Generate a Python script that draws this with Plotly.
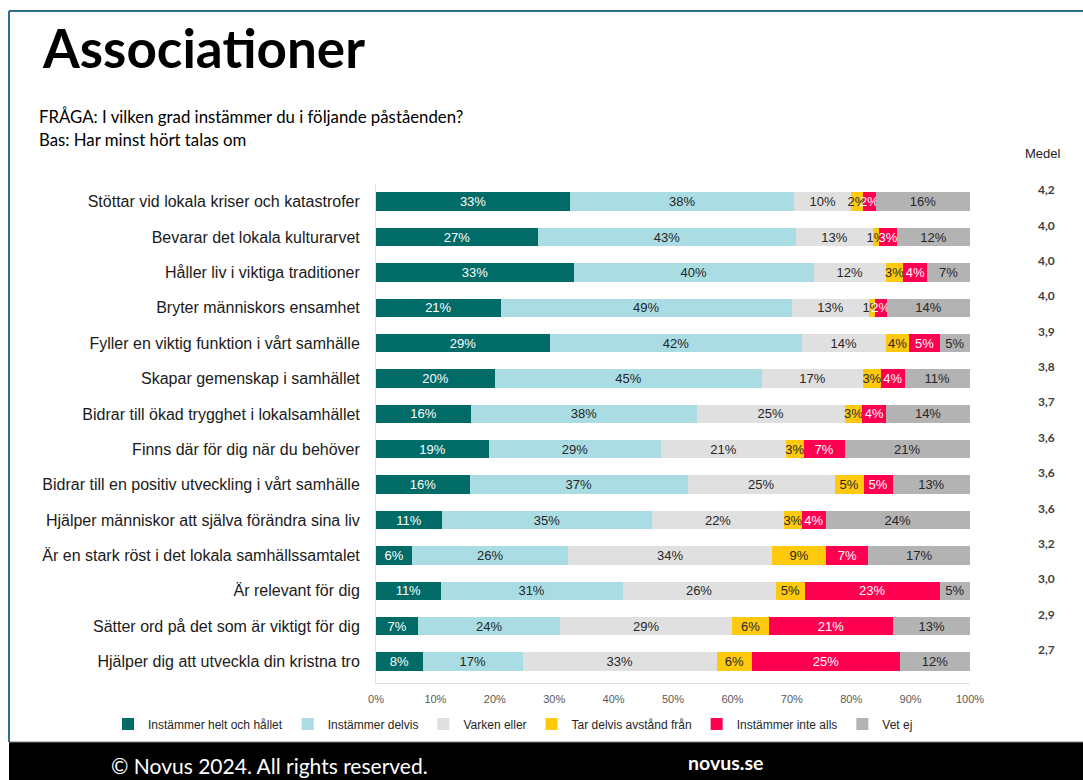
import plotly.graph_objects as go

categories = [
    "Stöttar vid lokala kriser och katastrofer",
    "Bevarar det lokala kulturarvet",
    "Håller liv i viktiga traditioner",
    "Bryter människors ensamhet",
    "Fyller en viktig funktion i vårt samhälle",
    "Skapar gemenskap i samhället",
    "Bidrar till ökad trygghet i lokalsamhället",
    "Finns där för dig när du behöver",
    "Bidrar till en positiv utveckling i vårt samhälle",
    "Hjälper människor att själva förändra sina liv",
    "Är en stark röst i det lokala samhällssamtalet",
    "Är relevant för dig",
    "Sätter ord på det som är viktigt för dig",
    "Hjälper dig att utveckla din kristna tro",
]

helt = [32.7, 27.3, 33.3, 21.0, 29.3, 20.0, 16.0, 19.0, 15.8, 11.1, 6.1, 10.9, 7.1, 7.9]
delvis = [37.7, 43.4, 40.4, 49.0, 42.4, 45.0, 38.0, 29.0, 36.7, 35.4, 26.3, 30.6, 23.9, 16.8]
varken = [9.6, 13.0, 12.1, 13.0, 14.1, 17.0, 24.9, 21.0, 24.7, 22.2, 34.3, 25.8, 29.0, 32.7]
avstand = [2.0, 1.0, 3.0, 1.0, 4.0, 3.0, 3.0, 3.0, 4.9, 3.0, 9.1, 4.9, 6.1, 5.9]
inte = [2.2, 3.0, 4.0, 2.0, 5.1, 4.0, 4.0, 6.9, 4.9, 4.0, 7.1, 22.7, 21.0, 24.9]
vetej = [15.8, 12.3, 7.2, 14.0, 5.1, 11.0, 14.1, 21.1, 13.0, 24.3, 17.1, 5.1, 12.9, 11.8]

medel = ["4,2", "4,0", "4,0", "4,0", "3,9", "3,8", "3,7", "3,6", "3,6", "3,6", "3,2", "3,0", "2,9", "2,7"]
xticks = [0, 10, 20, 30, 40, 50, 60, 70, 80, 90, 100]

series = [
    ("Instämmer helt och hållet", helt, "#006B67", "white"),
    ("Instämmer delvis", delvis, "#A9DCE3", "#262626"),
    ("Varken eller", varken, "#E0E0E0", "#262626"),
    ("Tar delvis avstånd från", avstand, "#FFC90E", "#262626"),
    ("Instämmer inte alls", inte, "#FF0050", "white"),
    ("Vet ej", vetej, "#B3B3B3", "#262626"),
]

W, H = 1083, 780
L, R, T, B = 376, 113, 184, 97
PW, PH = W - L - R, H - T - B


def px(x):
    return (x - L) / PW


def py(y):
    return (H - B - y) / PH


fig = go.Figure()
for name, vals, col, tcol in series:
    fig.add_trace(go.Bar(
        y=categories, x=vals, name=name, orientation="h",
        marker=dict(color=col, line=dict(width=0)),
        width=0.52,
        texttemplate="%{x:.0f}%", textposition="inside", textangle=0,
        insidetextanchor="middle", constraintext="none",
        textfont=dict(color=tcol, size=13, family="Liberation Sans"),
        hoverinfo="skip",
    ))

annotations = []
for c, m in zip(categories, medel):
    annotations.append(dict(
        x=px(1046), xref="paper", y=c, yref="y", yshift=12,
        text="<b>" + m + "</b>", showarrow=False, xanchor="center", yanchor="middle",
        font=dict(size=12, color="#404040", family="Lato"),
    ))

annotations += [
    dict(x=px(1043), y=py(153), xref="paper", yref="paper", text="Medel",
         showarrow=False, xanchor="center", yanchor="middle",
         font=dict(size=13, color="#222222", family="Liberation Sans")),
    dict(x=px(40), y=py(47), xref="paper", yref="paper", text="<b>Associationer</b>",
         showarrow=False, xanchor="left", yanchor="middle",
         font=dict(size=53, color="black", family="Lato")),
    dict(x=px(37), y=py(117), xref="paper", yref="paper",
         text="FRÅGA: I vilken grad instämmer du i följande påståenden?",
         showarrow=False, xanchor="left", yanchor="middle",
         font=dict(size=16.8, color="black", family="Lato")),
    dict(x=px(37), y=py(139), xref="paper", yref="paper",
         text="Bas: Har minst hört talas om",
         showarrow=False, xanchor="left", yanchor="middle",
         font=dict(size=16.8, color="black", family="Lato")),
    dict(x=px(109), y=py(765), xref="paper", yref="paper",
         text="© Novus 2024. All rights reserved.",
         showarrow=False, xanchor="left", yanchor="middle",
         font=dict(size=21, color="white", family="Lato")),
    dict(x=px(725), y=py(762), xref="paper", yref="paper",
         text="<b>novus.se</b>",
         showarrow=False, xanchor="center", yanchor="middle",
         font=dict(size=19.5, color="white", family="Lato")),
]

shapes = [
    dict(type="rect", xref="paper", yref="paper", x0=px(9), x1=px(W + 5),
         y0=py(742), y1=py(H + 5), fillcolor="black", line=dict(width=0), layer="below"),
    dict(type="line", xref="paper", yref="paper", x0=px(9), x1=px(W + 5),
         y0=py(742), y1=py(742), line=dict(color="#7f7f7f", width=1)),
    dict(type="line", xref="paper", yref="paper", x0=px(9), x1=px(W + 5),
         y0=py(11), y1=py(11), line=dict(color="#2E6E8E", width=2)),
    dict(type="line", xref="paper", yref="paper", x0=px(9), x1=px(9),
         y0=py(11), y1=py(742), line=dict(color="#2E6E8E", width=2)),
]

fig.update_layout(
    width=W, height=H,
    margin=dict(l=L, r=R, t=T, b=B, autoexpand=False),
    barmode="stack", bargap=0.48,
    paper_bgcolor="white", plot_bgcolor="white",
    font=dict(family="Liberation Sans", color="#262626"),
    showlegend=True,
    legend=dict(orientation="h", x=px(108), y=py(724), xanchor="left", yanchor="middle",
                font=dict(size=12, color="#262626", family="Liberation Sans"),
                itemwidth=30, traceorder="normal", bgcolor="rgba(0,0,0,0)"),
    annotations=annotations, shapes=shapes,
    xaxis=dict(range=[0, 100], tickvals=xticks, ticktext=[f"{v}%" for v in xticks],
               showgrid=False, zeroline=False, showline=True, linecolor="#D9E2EC",
               linewidth=1, ticks="", tickfont=dict(size=11, color="#595959"),
               ticklabelstandoff=6, fixedrange=True),
    yaxis=dict(categoryorder="array", categoryarray=categories, autorange="reversed",
               showgrid=False, zeroline=False, showline=True, linecolor="#D9E2EC",
               linewidth=1, ticks="", tickfont=dict(size=16, color="#1a1a1a"),
               ticklabelstandoff=12, fixedrange=True),
)

fig.write_html("out.html", config={"displayModeBar": False},
               post_script="document.body.style.margin='0px';document.body.style.overflow='hidden';")
